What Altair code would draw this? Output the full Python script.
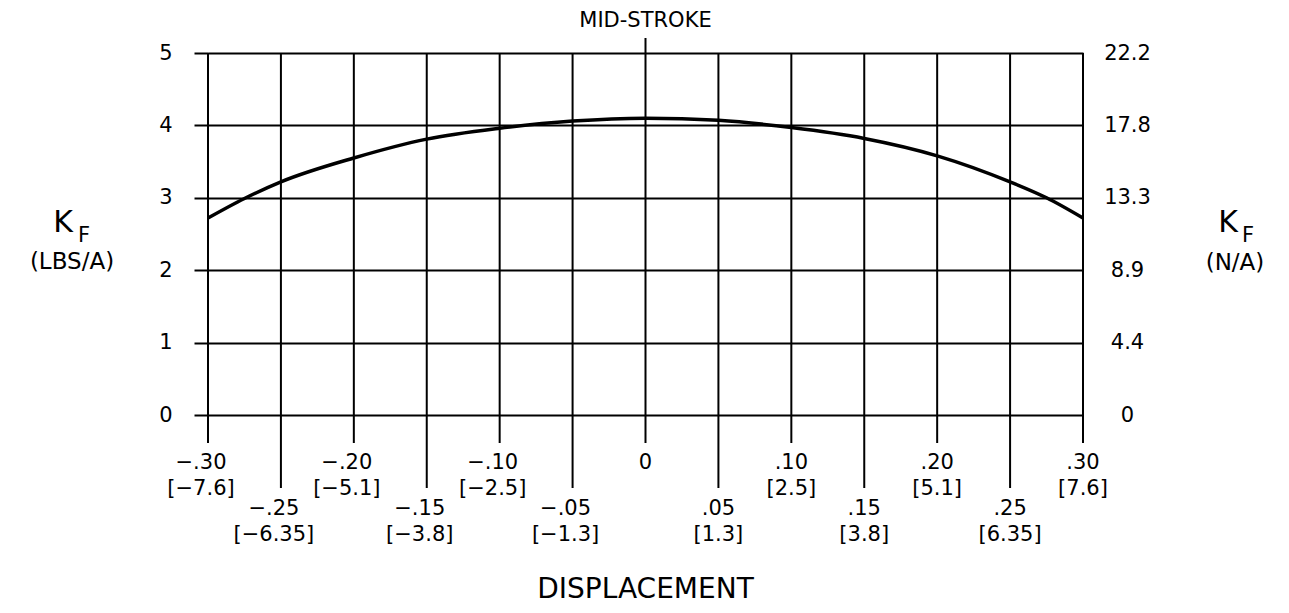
import altair as alt
import pandas as pd

FONT = "DejaVu Sans"

# ---- data ----
# curve: displacement (in) vs K_F (lbs/A)
disp = [-0.30, -0.275, -0.25, -0.20, -0.15, -0.10, -0.05, 0.0, 0.05, 0.10, 0.15, 0.20, 0.25, 0.275, 0.30]
kf = [2.72, 2.99, 3.22, 3.55, 3.81, 3.96, 4.06, 4.10, 4.07, 3.97, 3.82, 3.58, 3.22, 3.00, 2.72]

# left axis (lbs/A) and right axis (N/A) labels
lbs_ticks = [0, 1, 2, 3, 4, 5]
newton_labels = ["0", "4.4", "8.9", "13.3", "17.8", "22.2"]

# bottom axis: inches with [mm]
major_ticks = [-0.30, -0.20, -0.10, 0.0, 0.10, 0.20, 0.30]
major_in = ["−.30", "−.20", "−.10", "0", ".10", ".20", ".30"]
major_mm = ["[−7.6]", "[−5.1]", "[−2.5]", "", "[2.5]", "[5.1]", "[7.6]"]
minor_ticks = [-0.25, -0.15, -0.05, 0.05, 0.15, 0.25]
minor_in = ["−.25", "−.15", "−.05", ".05", ".15", ".25"]
minor_mm = ["[−6.35]", "[−3.8]", "[−1.3]", "[1.3]", "[3.8]", "[6.35]"]

mid_stroke = [0.0]

# ---- build ----
W, H = 875, 362
curve_df = pd.DataFrame({"d": disp, "kf": kf})
major_df = pd.DataFrame({"d": major_ticks, "l1": major_in, "l2": major_mm})
minor_df = pd.DataFrame({"d": minor_ticks, "l1": minor_in, "l2": minor_mm})
rtick_df = pd.DataFrame({"kf": lbs_ticks})
mid_df = pd.DataFrame({"d": mid_stroke})
one = alt.InlineData(values=[{"a": 1}])

xs = alt.Scale(domain=[-0.30, 0.30], nice=False, zero=False)
ys = alt.Scale(domain=[0, 5], nice=False)

left_axis = alt.Axis(
    orient="left", values=lbs_ticks, grid=True, gridColor="black", gridWidth=2, gridOpacity=1,
    tickSize=14, tickColor="black", tickWidth=2, domain=False,
    labelFont=FONT, labelFontSize=21, labelColor="black", labelPadding=22, format="d", title=None,
)

expr = ""
for v, lab in zip(lbs_ticks, newton_labels):
    expr += f"datum.value == {v} ? '{lab}' : "
expr += "''"

right_axis = alt.Axis(
    orient="right", values=lbs_ticks, grid=False, ticks=False, tickSize=0, domain=False,
    labelExpr=expr, labelAlign="center", labelPadding=44,
    labelFont=FONT, labelFontSize=21, labelColor="black", title=None,
)

xenc = alt.X("d:Q", scale=xs, axis=None)

vmaj = alt.Chart(major_df).mark_rule(color="black", strokeWidth=2).encode(
    x=xenc, y=alt.value(0), y2=alt.value(H + 28)
)
vmin = alt.Chart(minor_df).mark_rule(color="black", strokeWidth=2).encode(
    x=xenc, y=alt.value(0), y2=alt.value(H + 73)
)
mid_rule = alt.Chart(mid_df).mark_rule(color="black", strokeWidth=2).encode(
    x=xenc, y=alt.value(-15), y2=alt.value(0)
)
mid_text = alt.Chart(mid_df).mark_text(
    text="MID-STROKE", font=FONT, fontSize=21, baseline="alphabetic", align="center", color="black"
).encode(x=xenc, y=alt.value(-26))


def tick_labels(df, col, ypx):
    out = []
    for cond, dx in (("datum.d < 0", -7), ("datum.d >= 0", 0)):
        out.append(
            alt.Chart(df).transform_filter(cond).mark_text(
                font=FONT, fontSize=21, baseline="alphabetic", align="center", dx=dx, color="black"
            ).encode(x=xenc, y=alt.value(ypx), text=f"{col}:N")
        )
    return out


labels = (
    tick_labels(major_df, "l1", H + 54)
    + tick_labels(major_df, "l2", H + 80)
    + tick_labels(minor_df, "l1", H + 100)
    + tick_labels(minor_df, "l2", H + 126)
)


def ann(text, xpx, ypx, size):
    return alt.Chart(one).mark_text(
        text=text, font=FONT, fontSize=size, baseline="alphabetic", align="center", color="black"
    ).encode(x=alt.value(xpx), y=alt.value(ypx))


anns = [
    ann("K", -145, 179, 30), ann("F", -124, 189, 21), ann("(LBS/A)", -136, 216, 23),
    ann("K", 1020, 179, 30), ann("F", 1040, 189, 21), ann("(N/A)", 1027, 217, 23),
    ann("DISPLACEMENT", W / 2, 545, 28),
]

curve = alt.Chart(curve_df).mark_line(
    color="black", strokeWidth=3.5, interpolate="monotone"
).encode(x=xenc, y=alt.Y("kf:Q", scale=ys, axis=left_axis))

right = alt.Chart(rtick_df).mark_point(opacity=0, size=1).encode(
    y=alt.Y("kf:Q", scale=ys, axis=right_axis)
)

chart = (
    alt.layer(vmaj, vmin, mid_rule, mid_text, *labels, *anns, curve, right)
    .resolve_axis(y="independent")
    .properties(
        width=W, height=H,
        autosize=alt.AutoSizeParams(type="none"),
        padding={"left": 200, "top": 45, "right": 198, "bottom": 190},
    )
    .configure(background="white")
    .configure_view(stroke=None)
)

chart.save("out.html", embed_options={"renderer": "svg", "actions": False})
